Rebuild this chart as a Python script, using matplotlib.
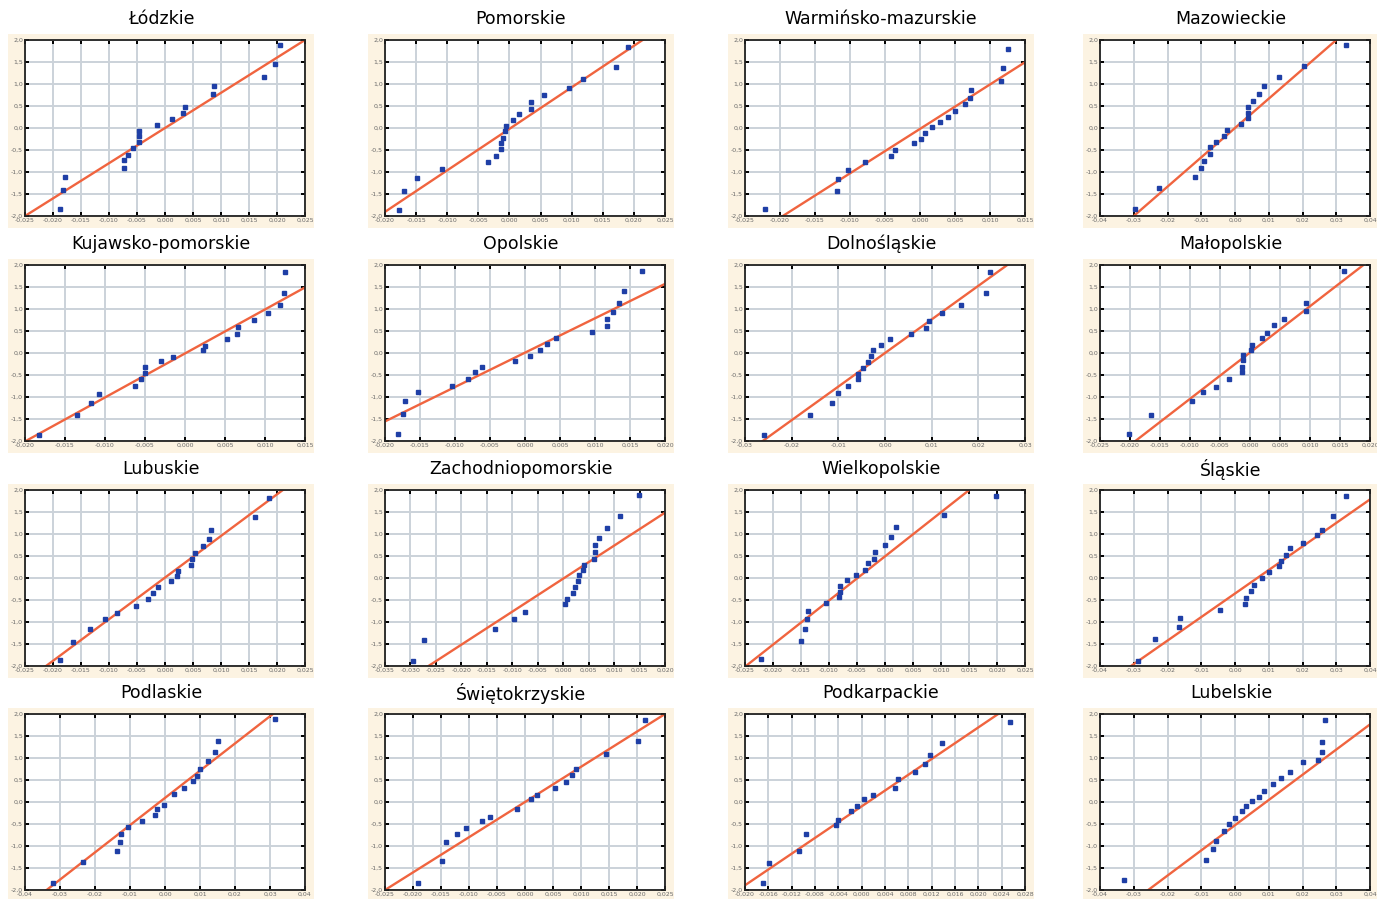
import matplotlib
matplotlib.use("Agg")
import matplotlib.pyplot as plt
import numpy as np
from matplotlib.patches import Rectangle
from matplotlib.ticker import FuncFormatter, MultipleLocator

TITLES = ["Łódzkie", "Pomorskie", "Warmińsko-mazurskie", "Mazowieckie",
          "Kujawsko-pomorskie", "Opolskie", "Dolnośląskie", "Małopolskie",
          "Lubuskie", "Zachodniopomorskie", "Wielkopolskie", "Śląskie",
          "Podlaskie", "Świętokrzyskie", "Podkarpackie", "Lubelskie"]

# x axis range and tick step of each panel
XMIN = [-0.025, -0.020, -0.025, -0.04, -0.020, -0.020, -0.03, -0.025,
        -0.025, -0.035, -0.025, -0.04, -0.04, -0.025, -0.020, -0.04]
XMAX = [0.025, 0.025, 0.015, 0.04, 0.015, 0.020, 0.03, 0.020,
        0.025, 0.020, 0.025, 0.04, 0.04, 0.025, 0.028, 0.04]
XSTEP = [0.005, 0.005, 0.005, 0.01, 0.005, 0.005, 0.01, 0.005,
         0.005, 0.005, 0.005, 0.01, 0.01, 0.005, 0.004, 0.01]

# fitted normal line: expected value = (x - mu) / sigma
MU = [0.0, 0.0002, 0.0002, 0.0, 0.0001, -0.0001, 0.0, -0.0001,
      -0.0001, 0.0002, -0.0049, 0.0066, -0.0015, 0.0, 0.0011, 0.0092]
SIGMA = [0.0125, 0.0106, 0.0099, 0.015, 0.0100, 0.0128, 0.0131, 0.0095,
         0.01057, 0.01333, 0.00997, 0.0187, 0.01616, 0.0125, 0.01115, 0.01746]

lodzkie_x = [-0.0188, -0.0182, -0.0179, -0.0073, -0.0073, -0.0066, -0.0057, -0.0046, -0.0046, -0.0046,
             -0.0014, 0.0012, 0.0032, 0.0036, 0.0086, 0.0088, 0.0177, 0.0196, 0.0205]
lodzkie_y = [-1.85, -1.41, -1.11, -0.90, -0.73, -0.61, -0.46, -0.32, -0.19, -0.06,
             0.07, 0.21, 0.34, 0.48, 0.77, 0.96, 1.16, 1.45, 1.89]

pomorskie_x = [-0.0177, -0.0169, -0.0148, -0.0108, -0.0034, -0.0021, -0.0014, -0.0014, -0.0011, -0.0007,
               -0.0006, 0.0006, 0.0015, 0.0034, 0.0034, 0.0056, 0.0095, 0.0119, 0.0171, 0.0190]
pomorskie_y = [-1.86, -1.43, -1.14, -0.94, -0.77, -0.63, -0.48, -0.34, -0.22, -0.07,
               0.04, 0.18, 0.31, 0.44, 0.60, 0.74, 0.91, 1.12, 1.39, 1.83]

warminsko_x = [-0.0221, -0.0119, -0.0117, -0.0103, -0.0079, -0.0041, -0.0036, -0.0009, 0.0001, 0.0007,
               0.0017, 0.0028, 0.0040, 0.0050, 0.0064, 0.0071, 0.0073, 0.0116, 0.0118, 0.0126]
warminsko_y = [-1.84, -1.43, -1.15, -0.95, -0.78, -0.64, -0.50, -0.35, -0.24, -0.12,
               0.02, 0.14, 0.25, 0.39, 0.54, 0.68, 0.86, 1.07, 1.36, 1.79]

mazowieckie_x = [-0.0297, -0.0224, -0.0120, -0.0101, -0.0092, -0.0073, -0.0073, -0.0056, -0.0032, -0.0024,
                 0.0018, 0.0039, 0.0039, 0.0039, 0.0052, 0.0072, 0.0087, 0.0131, 0.0203, 0.0329]
mazowieckie_y = [-1.84, -1.36, -1.12, -0.90, -0.75, -0.58, -0.44, -0.31, -0.19, -0.04,
                 0.08, 0.22, 0.33, 0.48, 0.61, 0.78, 0.95, 1.15, 1.41, 1.89]

kujawsko_x = [-0.0183, -0.0135, -0.0118, -0.0108, -0.0063, -0.0055, -0.0050, -0.0050, -0.0030, -0.0015,
              0.0023, 0.0025, 0.0053, 0.0065, 0.0066, 0.0086, 0.0104, 0.0119, 0.0124, 0.0125]
kujawsko_y = [-1.86, -1.40, -1.13, -0.94, -0.75, -0.59, -0.45, -0.32, -0.18, -0.08,
              0.06, 0.17, 0.31, 0.44, 0.58, 0.74, 0.91, 1.10, 1.37, 1.83]

opolskie_x = [-0.0181, -0.0174, -0.0172, -0.0153, -0.0104, -0.0082, -0.0072, -0.0062, -0.0014, 0.0007,
              0.0021, 0.0031, 0.0044, 0.0096, 0.0117, 0.0117, 0.0125, 0.0134, 0.0142, 0.0167]
opolskie_y = [-1.85, -1.38, -1.08, -0.89, -0.74, -0.59, -0.44, -0.31, -0.18, -0.07,
              0.07, 0.20, 0.35, 0.47, 0.61, 0.77, 0.93, 1.14, 1.42, 1.87]

dolnoslaskie_x = [-0.0259, -0.0160, -0.0114, -0.0100, -0.0079, -0.0057, -0.0057, -0.0047, -0.0036, -0.0031,
                  -0.0026, -0.0009, 0.0010, 0.0056, 0.0088, 0.0094, 0.0123, 0.0163, 0.0216, 0.0225]
dolnoslaskie_y = [-1.87, -1.40, -1.13, -0.92, -0.75, -0.60, -0.47, -0.34, -0.20, -0.06,
                  0.06, 0.19, 0.31, 0.44, 0.57, 0.73, 0.92, 1.10, 1.37, 1.85]

malopolskie_x = [-0.0202, -0.0165, -0.0097, -0.0079, -0.0056, -0.0035, -0.0013, -0.0013, -0.0011, -0.0011,
                 0.0002, 0.0004, 0.0020, 0.0028, 0.0040, 0.0057, 0.0093, 0.0093, 0.0157]
malopolskie_y = [-1.85, -1.40, -1.09, -0.88, -0.78, -0.59, -0.44, -0.32, -0.15, -0.04,
                 0.06, 0.19, 0.35, 0.46, 0.64, 0.77, 0.96, 1.13, 1.87]

lubuskie_x = [-0.0188, -0.0165, -0.0134, -0.0107, -0.0086, -0.0052, -0.0031, -0.0021, -0.0013, 0.0011,
              0.0021, 0.0023, 0.0046, 0.0049, 0.0054, 0.0067, 0.0079, 0.0083, 0.0160, 0.0186]
lubuskie_y = [-1.87, -1.45, -1.16, -0.94, -0.79, -0.64, -0.48, -0.34, -0.21, -0.07,
              0.04, 0.17, 0.29, 0.43, 0.57, 0.73, 0.89, 1.08, 1.38, 1.82]

zachodnio_x = [-0.0295, -0.0274, -0.0134, -0.0096, -0.0075, 0.0003, 0.0008, 0.0019, 0.0023, 0.0030,
               0.0031, 0.0038, 0.0040, 0.0060, 0.0063, 0.0063, 0.0071, 0.0087, 0.0111, 0.0149]
zachodnio_y = [-1.88, -1.41, -1.15, -0.94, -0.77, -0.60, -0.47, -0.34, -0.20, -0.07,
               0.07, 0.18, 0.30, 0.44, 0.60, 0.74, 0.91, 1.13, 1.40, 1.88]

wielkopolskie_x = [-0.0221, -0.0150, -0.0142, -0.0140, -0.0138, -0.0105, -0.0083, -0.0080, -0.0080, -0.0067,
                   -0.0052, -0.0035, -0.0031, -0.0019, -0.0017, 0.0000, 0.0010, 0.0019, 0.0106, 0.0198]
wielkopolskie_y = [-1.84, -1.44, -1.15, -0.94, -0.75, -0.57, -0.43, -0.32, -0.18, -0.05,
                   0.06, 0.19, 0.33, 0.44, 0.58, 0.76, 0.94, 1.15, 1.43, 1.87]

slaskie_x = [-0.0286, -0.0237, -0.0166, -0.0163, -0.0043, 0.0029, 0.0034, 0.0046, 0.0057, 0.0080,
             0.0100, 0.0131, 0.0137, 0.0151, 0.0163, 0.0200, 0.0243, 0.0257, 0.0291, 0.0329]
slaskie_y = [-1.88, -1.38, -1.12, -0.91, -0.73, -0.59, -0.45, -0.29, -0.15, -0.01,
             0.13, 0.27, 0.38, 0.52, 0.68, 0.80, 0.98, 1.10, 1.40, 1.86]

podlaskie_x = [-0.0319, -0.0235, -0.0137, -0.0129, -0.0126, -0.0106, -0.0065, -0.0030, -0.0022, -0.0003,
               0.0026, 0.0055, 0.0081, 0.0091, 0.0101, 0.0124, 0.0144, 0.0150, 0.0315]
podlaskie_y = [-1.83, -1.36, -1.11, -0.91, -0.73, -0.57, -0.43, -0.30, -0.17, -0.06,
               0.19, 0.32, 0.47, 0.60, 0.75, 0.94, 1.13, 1.39, 1.88]

swietokrzyskie_x = [-0.0191, -0.0148, -0.0141, -0.0121, -0.0105, -0.0077, -0.0062, -0.0014, 0.0011,
                    0.0021, 0.0054, 0.0073, 0.0084, 0.0091, 0.0145, 0.0202, 0.0214]
swietokrzyskie_y = [-1.84, -1.34, -0.92, -0.73, -0.60, -0.44, -0.33, -0.15, 0.06,
                    0.15, 0.31, 0.46, 0.62, 0.76, 1.10, 1.39, 1.86]

podkarpackie_x = [-0.0169, -0.0159, -0.0107, -0.0095, -0.0044, -0.0041, -0.0018, -0.0008, 0.0004,
                  0.0019, 0.0057, 0.0062, 0.0091, 0.0109, 0.0117, 0.0138, 0.0254]
podkarpackie_y = [-1.84, -1.39, -1.12, -0.73, -0.53, -0.42, -0.21, -0.08, 0.06,
                  0.15, 0.31, 0.53, 0.69, 0.87, 1.07, 1.34, 1.82]

lubelskie_x = [-0.0329, -0.0086, -0.0066, -0.0057, -0.0034, -0.0017, 0.0000, 0.0020, 0.0034, 0.0051,
               0.0071, 0.0086, 0.0114, 0.0137, 0.0163, 0.0200, 0.0246, 0.0257, 0.0257, 0.0266]
lubelskie_y = [-1.77, -1.32, -1.07, -0.89, -0.67, -0.51, -0.37, -0.21, -0.08, 0.03,
               0.12, 0.26, 0.40, 0.55, 0.69, 0.92, 0.96, 1.14, 1.37, 1.86]

X_DATA = [lodzkie_x, pomorskie_x, warminsko_x, mazowieckie_x,
          kujawsko_x, opolskie_x, dolnoslaskie_x, malopolskie_x,
          lubuskie_x, zachodnio_x, wielkopolskie_x, slaskie_x,
          podlaskie_x, swietokrzyskie_x, podkarpackie_x, lubelskie_x]
Y_DATA = [lodzkie_y, pomorskie_y, warminsko_y, mazowieckie_y,
          kujawsko_y, opolskie_y, dolnoslaskie_y, malopolskie_y,
          lubuskie_y, zachodnio_y, wielkopolskie_y, slaskie_y,
          podlaskie_y, swietokrzyskie_y, podkarpackie_y, lubelskie_y]

W, H = 1377, 899
fig = plt.figure(figsize=(W / 100, H / 100), dpi=100, facecolor="white")

LEFTS = [25, 385, 745, 1100]
WIDTHS = [280, 280, 280, 270]
TOPS = [40, 265, 490, 714]
AX_H = 176
TITLE_Y = [19, 244, 469, 693]

GRID_C = "#cbd2d9"
LINE_C = "#f0643f"
PT_C = "#1f3fa6"
CREAM = "#fcf3e2"


def ydec(v, pos):
    return f"{v:.1f}".replace(".", ",")


def make_xfmt(ndec):
    def fmt(v, pos):
        if abs(v) < 1e-12:
            v = 0.0
        return f"{v:.{ndec}f}".replace(".", ",")
    return fmt


for i in range(16):
    r, c = divmod(i, 4)
    left, top, w = LEFTS[c], TOPS[r], WIDTHS[c]

    # cream background panel behind each plot
    fig.add_artist(Rectangle(((left - 17) / W, 1 - (top + AX_H + 12) / H),
                             (w + 26) / W, (AX_H + 18) / H,
                             transform=fig.transFigure, facecolor=CREAM,
                             edgecolor="none", zorder=-10))

    ax = fig.add_axes([left / W, 1 - (top + AX_H) / H, w / W, AX_H / H])
    ax.set_zorder(1)
    ax.set_facecolor("white")
    ax.set_xlim(XMIN[i], XMAX[i])
    ax.set_ylim(-2.0, 2.0)
    ax.xaxis.set_major_locator(MultipleLocator(XSTEP[i]))
    ax.yaxis.set_major_locator(MultipleLocator(0.5))
    ax.xaxis.set_major_formatter(FuncFormatter(make_xfmt(2 if XSTEP[i] >= 0.01 else 3)))
    ax.yaxis.set_major_formatter(FuncFormatter(ydec))
    ax.grid(True, color=GRID_C, linewidth=1.4)
    ax.set_axisbelow(True)
    ax.tick_params(direction="in", length=3, width=1.4, color="black",
                   labelsize=4.5, labelcolor="#6a6a6a", pad=1.5,
                   top=True, right=True)
    for sp in ax.spines.values():
        sp.set_linewidth(1.3)
        sp.set_color("#222222")

    xl = np.array([XMIN[i], XMAX[i]])
    ax.plot(xl, (xl - MU[i]) / SIGMA[i], color=LINE_C, linewidth=1.7, zorder=2)
    ax.plot(X_DATA[i], Y_DATA[i], linestyle="none", marker="s", markersize=2.3,
            markerfacecolor=PT_C, markeredgecolor=PT_C, zorder=3)

    fig.text((left - 17 + (w + 26) / 2) / W, 1 - TITLE_Y[r] / H, TITLES[i],
             ha="center", va="center", fontsize=12.5, family=["DejaVu Sans"])

fig.savefig("out.png", dpi=100, facecolor="white")
